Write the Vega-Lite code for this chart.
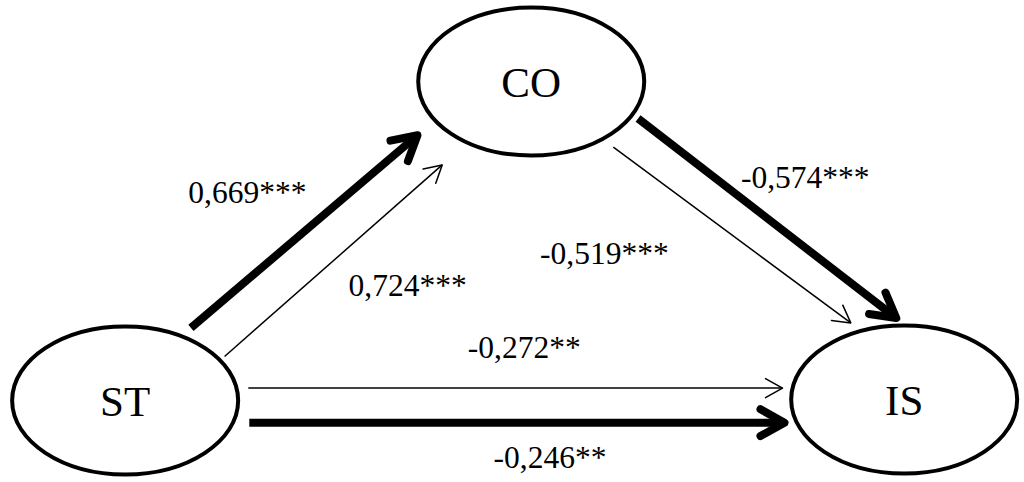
{
  "$schema": "https://vega.github.io/schema/vega-lite/v6.json",
  "width": 1024,
  "height": 482,
  "autosize": {"type": "fit", "contains": "padding"},
  "padding": 0,
  "background": "white",
  "config": {"view": {"stroke": null}},
  "datasets": {
    "nodes": [
      {"node": "ST", "x": 126.5, "y": 405.5},
      {"node": "CO", "x": 537, "y": 82.5},
      {"node": "IS", "x": 914, "y": 404.5}
    ],
    "edges": [
      {"from": "ST", "to": "CO", "est": "0,669***", "weight": "thick", "x1": 193, "y1": 332, "x2": 422, "y2": 137, "lx": 250, "ly": 206},
      {"from": "ST", "to": "CO", "est": "0,724***", "weight": "thin", "x1": 227, "y1": 361, "x2": 447, "y2": 167, "lx": 412, "ly": 300},
      {"from": "CO", "to": "IS", "est": "-0,574***", "weight": "thick", "x1": 645, "y1": 120, "x2": 906, "y2": 322, "lx": 814, "ly": 190},
      {"from": "CO", "to": "IS", "est": "-0,519***", "weight": "thin", "x1": 620, "y1": 149, "x2": 860, "y2": 327, "lx": 611, "ly": 267},
      {"from": "ST", "to": "IS", "est": "-0,272**", "weight": "thin", "x1": 251, "y1": 393, "x2": 791, "y2": 393, "lx": 530, "ly": 363},
      {"from": "ST", "to": "IS", "est": "-0,246**", "weight": "thick", "x1": 252, "y1": 428, "x2": 793, "y2": 428, "lx": 556, "ly": 474}
    ]
  },
  "layer": [
    {
      "data": {"name": "edges"},
      "mark": {"type": "rule", "color": "black", "strokeCap": "butt"},
      "encoding": {
        "x": {"field": "x1", "type": "quantitative", "scale": {"domain": [0, 1024], "nice": false, "zero": false}, "axis": null},
        "y": {"field": "y1", "type": "quantitative", "scale": {"domain": [0, 482], "nice": false, "zero": false, "reverse": true}, "axis": null},
        "x2": {"field": "x2"},
        "y2": {"field": "y2"},
        "strokeWidth": {"field": "weight", "type": "ordinal", "scale": {"domain": ["thick", "thin"], "range": [8, 1.5]}, "legend": null}
      }
    },
    {
      "data": {"name": "edges"},
      "transform": [
        {"calculate": "atan2(datum.y2 - datum.y1, datum.x2 - datum.x1) * 180 / PI", "as": "ang"}
      ],
      "mark": {"type": "point", "shape": "M -1 -0.56 L 0 0 L -1 0.56", "filled": false, "color": "black", "opacity": 1, "strokeJoin": "round", "strokeCap": "round"},
      "encoding": {
        "x": {"field": "x2", "type": "quantitative"},
        "y": {"field": "y2", "type": "quantitative"},
        "angle": {"field": "ang", "type": "quantitative", "scale": null},
        "size": {"field": "weight", "type": "ordinal", "scale": {"domain": ["thick", "thin"], "range": [2304, 1156]}, "legend": null},
        "strokeWidth": {"field": "weight", "type": "ordinal", "scale": {"domain": ["thick", "thin"], "range": [8, 1.5]}, "legend": null}
      }
    },
    {
      "data": {"name": "edges"},
      "mark": {"type": "text", "font": "Liberation Serif", "fontSize": 31.5, "align": "center", "baseline": "alphabetic", "color": "black"},
      "encoding": {
        "x": {"field": "lx", "type": "quantitative"},
        "y": {"field": "ly", "type": "quantitative"},
        "text": {"field": "est"}
      }
    },
    {
      "data": {"name": "nodes"},
      "mark": {"type": "point", "shape": "M -1 0 C -1 -0.362 -0.5523 -0.655 0 -0.655 C 0.5523 -0.655 1 -0.362 1 0 C 1 0.362 0.5523 0.655 0 0.655 C -0.5523 0.655 -1 0.362 -1 0 Z", "size": 51076, "filled": false, "stroke": "black", "strokeWidth": 4, "opacity": 1},
      "encoding": {
        "x": {"field": "x", "type": "quantitative"},
        "y": {"field": "y", "type": "quantitative"}
      }
    },
    {
      "data": {"name": "nodes"},
      "mark": {"type": "text", "font": "Liberation Serif", "fontSize": 43, "align": "center", "baseline": "alphabetic", "dy": 16, "color": "black"},
      "encoding": {
        "x": {"field": "x", "type": "quantitative"},
        "y": {"field": "y", "type": "quantitative"},
        "text": {"field": "node"}
      }
    }
  ]
}
